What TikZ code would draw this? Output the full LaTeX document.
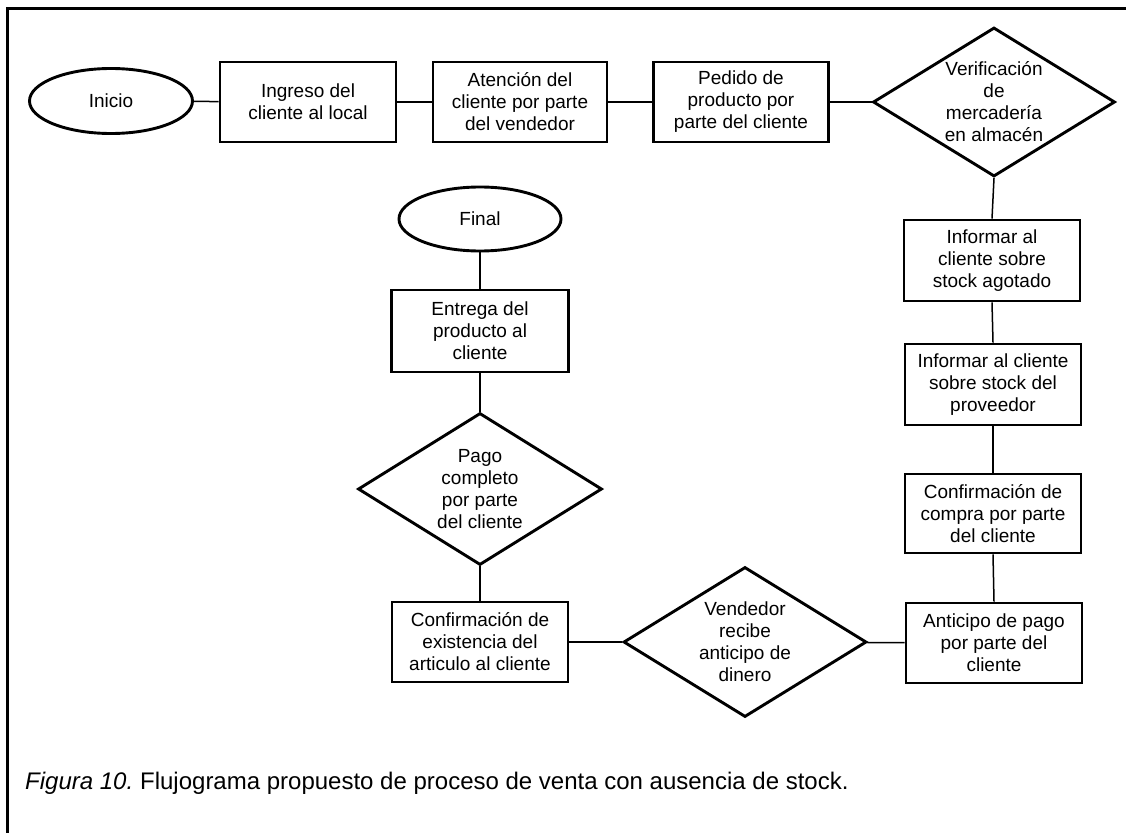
\documentclass[tikz,border=0pt]{standalone}
\usepackage{fontspec}
\setmainfont{Liberation Sans}
\usetikzlibrary{shapes.geometric}

\tikzset{
  procbox/.style={draw, line width=2.9pt, rectangle, inner sep=0pt,
    minimum width=176pt, minimum height=80pt, align=center},
  terminal/.style={draw, line width=2.9pt, ellipse, inner sep=0pt,
    minimum width=163pt, minimum height=65pt},
  decision/.style={draw, line width=2.9pt, diamond, inner sep=0pt,
    minimum width=243pt, minimum height=151pt},
  dtext/.style={align=center, inner sep=0pt},
  conn/.style={draw, line width=1.5pt},
  frameline/.style={line width=3pt},
  captext/.style={anchor=base west, inner sep=0pt,
    font=\fontsize{24}{28}\selectfont}
}

\begin{document}
\begin{tikzpicture}[x=1pt, y=-1pt, font=\fontsize{19}{22}\selectfont]
  \useasboundingbox (0,0) rectangle (1126,832);

  % frame around the figure
  \draw[frameline] (7,840) -- (7,9) -- (1135,9);

  % top row
  \node[terminal] (ini) at (111,101) {Inicio};
  \node[procbox] (ing) at (308,102) {Ingreso del\\cliente al local};
  \node[procbox, minimum width=174pt] (ate) at (520,102) {Atención del\\cliente  por parte\\del vendedor};
  \node[procbox, minimum width=175pt] (ped) at (741,102) {Pedido de\\producto por\\parte del cliente};
  \node[decision, minimum width=242pt, minimum height=149pt] (ver) at (994,102) {};
  \node[dtext] (vert) at (ver.center) {Verificación\\de\\mercadería\\en almacén};

  % right column
  \node[procbox, minimum height=81pt] (inf1) at (992,260.5) {Informar al\\cliente sobre\\stock agotado};
  \node[procbox, minimum height=81pt] (inf2) at (993,384.5) {Informar al cliente\\sobre stock del\\proveedor};
  \node[procbox, minimum height=79pt] (com) at (993,513.5) {Confirmación de\\compra por parte\\del cliente};
  \node[procbox] (ant) at (994,643) {Anticipo de pago\\por parte del\\cliente};

  % bottom row and left column
  \node[decision, minimum height=150pt] (ven) at (745,642) {};
  \node[dtext] (vent) at (ven.center) {Vendedor\\recibe\\anticipo de\\dinero};
  \node[procbox] (exi) at (480,642) {Confirmación de\\existencia del\\articulo al cliente};
  \node[decision, minimum width=244pt, minimum height=152pt] (pag) at (480,489) {};
  \node[dtext] (pagt) at (pag.center) {Pago\\completo\\por parte\\del cliente};
  \node[procbox, minimum width=177pt, minimum height=82pt] (ent) at (480,331) {Entrega del\\producto al\\cliente};
  \node[terminal, minimum width=162pt, minimum height=64pt] (fin) at (480,219) {Final};

  % connectors
  \draw[conn] (ini) -- (ing);
  \draw[conn] (ing) -- (ate);
  \draw[conn] (ate) -- (ped);
  \draw[conn] (ped) -- (ver);
  \draw[conn] (ver.south) -- (inf1.north);
  \draw[conn] (inf1.south) -- (inf2.north);
  \draw[conn] (inf2.south) -- (com.north);
  \draw[conn] (com.south) -- (ant.north);
  \draw[conn] (ant) -- (ven);
  \draw[conn] (ven) -- (exi);
  \draw[conn] (exi.north) -- (pag.south);
  \draw[conn] (pag.north) -- (ent.south);
  \draw[conn] (ent.north) -- (fin.south);

  % caption
  \node[captext] (cap) at (25,789)
    {\textit{Figura 10.}\kern-2pt{} Flujograma propuesto de proceso de venta con ausencia de stock.};
\end{tikzpicture}
\end{document}
